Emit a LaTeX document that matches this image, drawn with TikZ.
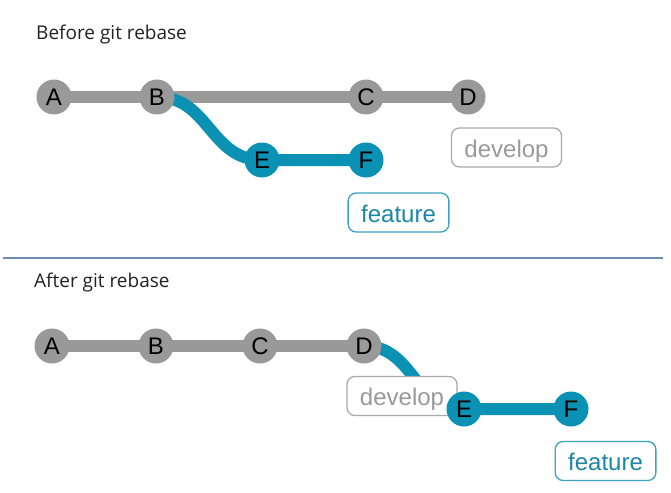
\documentclass[tikz,border=0pt]{standalone}
\usepackage{fontspec}
\setmainfont{Open Sans}
\newfontfamily\arialf{Liberation Sans}
\usetikzlibrary{backgrounds}
\definecolor{commitgray}{HTML}{999999}
\definecolor{featblue}{HTML}{0A91B4}
\definecolor{labelgray}{HTML}{AAAAAA}
\definecolor{labelblue}{HTML}{3BA3C4}
\definecolor{textblue}{HTML}{1A86A8}
\definecolor{sepblue}{HTML}{6B8EB4}
\definecolor{titletext}{HTML}{222222}
\tikzset{
  commit/.style={circle, minimum size=35pt, inner sep=0pt, font=\arialf\fontsize{24}{24}\selectfont, text=black},
  graycommit/.style={commit, fill=commitgray},
  bluecommit/.style={commit, fill=featblue},
  graylink/.style={draw=commitgray, line width=12pt},
  bluelink/.style={draw=featblue, line width=12pt},
  branchlabel/.style={draw, fill=white, rounded corners=8pt, line width=1.3pt, inner xsep=13pt, inner ysep=0pt, minimum height=39pt, text height=19pt, text depth=0pt, font=\arialf\fontsize{24}{24}\selectfont},
  devlabel/.style={branchlabel, draw=labelgray, text=commitgray},
  featlabel/.style={branchlabel, draw=labelblue, text=textblue},
  title/.style={anchor=base west, inner sep=0pt, font=\fontsize{19}{22}\selectfont, text=titletext}
}
\begin{document}
\begin{tikzpicture}[x=1pt,y=-1pt]
\useasboundingbox (0,0) rectangle (671,492);
% ---- before ----
\node[title] (t1) at (36,40) {Before git rebase};
\node[graycommit] (a1) at (54,97) {A};
\node[graycommit] (b1) at (157,97) {B};
\node[graycommit] (c1) at (366,97) {C};
\node[graycommit] (d1) at (468,97) {D};
\node[bluecommit] (e1) at (262,160) {E};
\node[bluecommit] (f1) at (366,160) {F};
\node[devlabel] (dev1) at (506.5,147.5) {develop};
\node[featlabel] (feat1) at (398.5,212.5) {feature};
\begin{scope}[on background layer]
\draw[graylink] (a1.center) -- (b1.center) -- (c1.center) -- (d1.center);
\draw[bluelink] (b1.center) .. controls +(52,0) and +(-52,0) .. (e1.center) -- (f1.center);
\end{scope}
% ---- separator ----
\coordinate (sl) at (3,258);
\coordinate (sr) at (663,258);
\draw[sepblue, line width=2.5pt] (sl) -- (sr);
% ---- after ----
\node[title] (t2) at (34,287) {After git rebase};
\node[graycommit] (a2) at (52,346) {A};
\node[graycommit] (b2) at (156,346) {B};
\node[graycommit] (c2) at (260,346) {C};
\node[graycommit] (d2) at (364,346) {D};
\node[devlabel] (dev2) at (402,396) {develop};
\node[bluecommit] (e2) at (464,409) {E};
\node[bluecommit] (f2) at (571,409) {F};
\node[featlabel] (feat2) at (605.5,461) {feature};
\begin{scope}[on background layer]
\draw[graylink] (a2.center) -- (b2.center) -- (c2.center) -- (d2.center);
\draw[bluelink] (d2.center) .. controls +(50,0) and +(-50,0) .. (e2.center) -- (f2.center);
\end{scope}
\end{tikzpicture}
\end{document}
